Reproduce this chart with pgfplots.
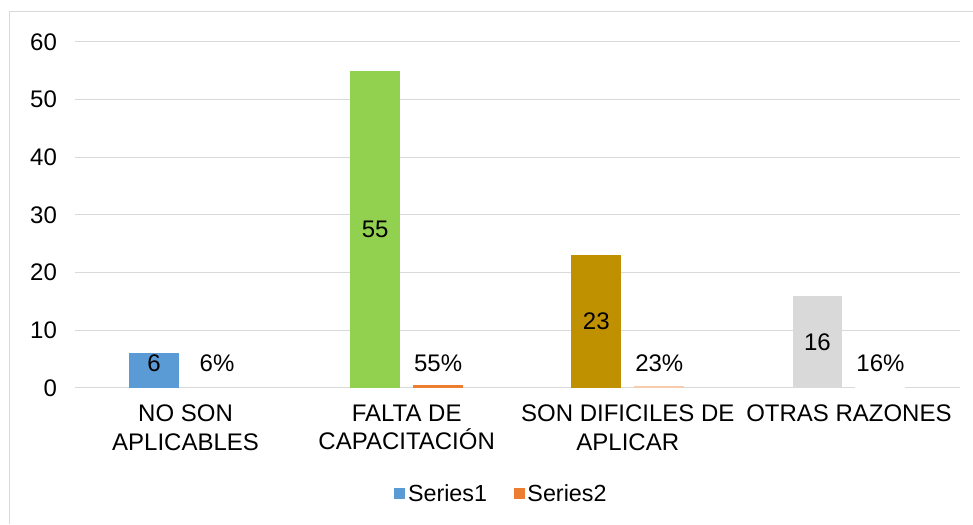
\documentclass[border=0pt]{standalone}
\usepackage{pgfplots}
\pgfplotsset{compat=1.18}
\usepackage{fontspec}
\setmainfont{Liberation Sans}

\definecolor{cBlue}{HTML}{5B9BD5}
\definecolor{cGreen}{HTML}{92D050}
\definecolor{cGold}{HTML}{BF9000}
\definecolor{cGray}{HTML}{D9D9D9}
\definecolor{cOrange}{HTML}{ED7D31}
\definecolor{cPeach}{HTML}{F8CBAD}
\definecolor{gridgray}{HTML}{D9D9D9}

\begin{document}
\begin{tikzpicture}
% page = 973 x 524 px, 1 px = 0.75pt
\path (0,0) rectangle (729.75pt,393pt);
\draw[gridgray, line width=0.75pt] (7.5pt,0) -- (7.5pt,384pt) -- (729.75pt,384pt);
\begin{axis}[
  at={(56.25pt,102pt)}, anchor=south west,
  scale only axis, width=663.75pt, height=259.5pt,
  xmin=-0.5, xmax=3.5, ymin=0, ymax=60,
  ytick={0,10,...,60},
  xtick={0,1,2,3},
  xticklabels={{NO SON\\APLICABLES},{FALTA DE\\CAPACITACIÓN},{SON DIFICILES DE\\APLICAR},{OTRAS RAZONES}},
  xticklabel style={align=center, anchor=north, yshift=-9pt, font=\fontsize{18}{21.75}\selectfont},
  yticklabel style={xshift=-10pt},
  tick label style={font=\fontsize{18}{21.75}\selectfont},
  /pgf/number format/assume math mode=true,
  major tick length=0pt,
  axis line style={draw=none},
  ymajorgrids, grid style={gridgray, line width=0.75pt},
  legend style={at={(axis description cs:0.4825,-0.306)}, anchor=center, draw=none,
    font=\fontsize{17.5}{20}\selectfont, legend columns=2,
    /tikz/every even column/.append style={column sep=18pt}},
  legend cell align=left,
  legend image code/.code={\fill[#1,draw=none] (0pt,-4.1pt) rectangle (8.3pt,4.1pt);},
]
\addlegendimage{fill=cBlue}
\addlegendentry{Series1}
\addlegendimage{fill=cOrange}
\addlegendentry{Series2}

% Series1
\addplot[ybar, bar width=37.5pt, bar shift=-23.6pt, fill=cBlue, draw=none, forget plot] coordinates {(0,6)};
\addplot[ybar, bar width=37.5pt, bar shift=-23.6pt, fill=cGreen, draw=none, forget plot] coordinates {(1,55)};
\addplot[ybar, bar width=37.5pt, bar shift=-23.6pt, fill=cGold, draw=none, forget plot] coordinates {(2,23)};
\addplot[ybar, bar width=37.5pt, bar shift=-23.6pt, fill=cGray, draw=none, forget plot] coordinates {(3,16)};
% Series2
\addplot[ybar, bar width=37.5pt, bar shift=23.6pt, fill=gridgray, draw=none, forget plot] coordinates {(0,0.06)};
\addplot[ybar, bar width=37.5pt, bar shift=23.6pt, fill=cOrange, draw=none, forget plot] coordinates {(1,0.55)};
\addplot[ybar, bar width=37.5pt, bar shift=23.6pt, fill=cPeach, draw=none, forget plot] coordinates {(2,0.23)};
\addplot[ybar, bar width=37.5pt, bar shift=23.6pt, fill=white, draw=none, forget plot] coordinates {(3,0.16)};

% data labels
\addplot[draw=none, mark=none, forget plot, nodes near coords, point meta=explicit symbolic,
  every node near coord/.style={anchor=center, font=\fontsize{18}{21}\selectfont, text=black}]
  coordinates {(-0.1424,4.2)[6] (0.8576,27.5)[55] (1.8576,11.5)[23] (2.8576,7.9)[16]
               (0.1424,4.2)[6\%] (1.1424,4.2)[55\%] (2.1424,4.2)[23\%] (3.1424,4.2)[16\%]};
\end{axis}
\end{tikzpicture}
\end{document}
